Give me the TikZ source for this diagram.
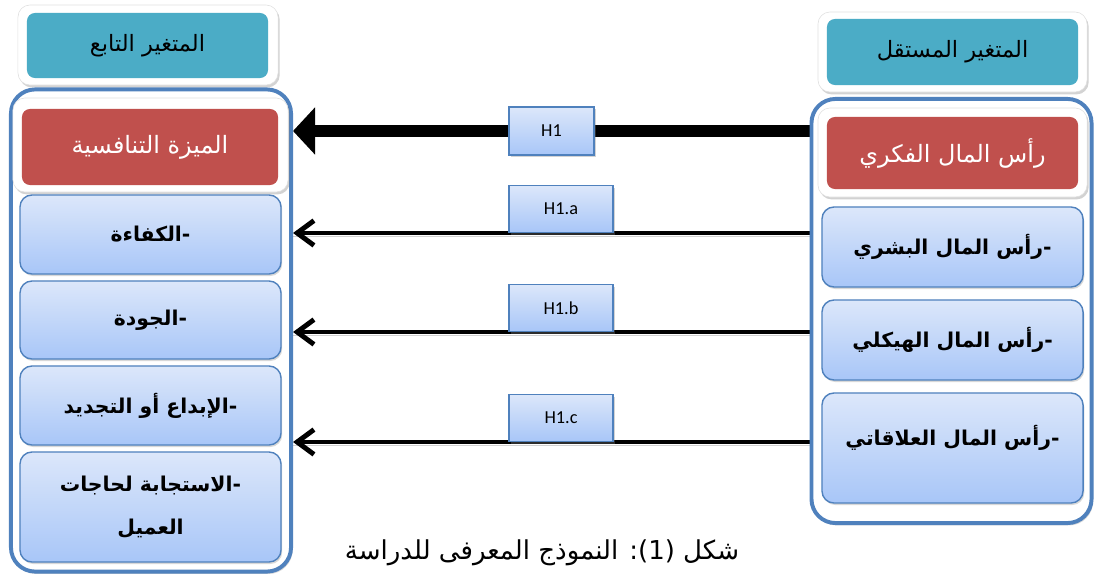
\documentclass[tikz,border=0pt]{standalone}
\usepackage{fontspec}
\usepackage{tikz}
\usetikzlibrary{positioning,shadows,backgrounds,arrows.meta}
\TeXXeTstate=1
\newfontfamily\arabicfont[Script=Arabic]{DejaVu Sans}
\newfontfamily\hypfont{Carlito}
\definecolor{headteal}{HTML}{4BACC6}
\definecolor{titlered}{HTML}{C0504D}
\definecolor{frameblue}{HTML}{4F81BD}
\definecolor{itemtop}{HTML}{DCE7FA}
\definecolor{itembottom}{HTML}{A8C6F8}

\tikzset{
  panel/.style={draw=frameblue, line width=2.8pt, fill=white, rounded corners=0.6cm, inner sep=0pt,
    drop shadow={opacity=0.3, shadow xshift=0.04cm, shadow yshift=-0.06cm}},
  whiteframe/.style={fill=white, draw=black!12, rounded corners=0.3cm, inner sep=0pt,
    drop shadow={opacity=0.35, shadow xshift=0.04cm, shadow yshift=-0.06cm}},
  headbox/.style={fill=headteal, rounded corners=0.2cm, inner sep=0pt, font=\arabicfont\fontsize{16}{19}\selectfont},
  titlebox/.style={fill=titlered, text=white, rounded corners=0.2cm, inner sep=0pt, font=\arabicfont\fontsize{17}{20}\selectfont},
  itemtext/.style={font=\arabicfont\bfseries\fontsize{14.5}{31}\selectfont},
  itembox/.style={draw=frameblue, line width=1pt, rounded corners=0.3cm, top color=itemtop, bottom color=itembottom,
    inner sep=0pt, minimum width=6.525cm, align=center,
    drop shadow={opacity=0.3, shadow xshift=0.03cm, shadow yshift=-0.05cm}, itemtext},
  hypbox/.style={draw=frameblue, line width=1pt, top color=itemtop, bottom color=itembottom, inner sep=0pt,
    minimum height=1.175cm, drop shadow={opacity=0.35, shadow xshift=0.04cm, shadow yshift=-0.06cm},
    font=\hypfont\fontsize{13}{15}\selectfont},
  mainlink/.style={line width=8.5pt, -{Triangle[length=0.55cm,width=1.15cm]}},
  sublink/.style={line width=3.5pt, line cap=round, -{Straight Barb[length=0.42cm,width=0.62cm]},
    preaction={draw=black!18, -, transform canvas={yshift=-0.08cm}}},
}

\begin{document}
\begin{tikzpicture}[x=0.025cm, y=-0.025cm]
    \useasboundingbox (0,0) rectangle (1095,577);

    % Dependent side
    \node[whiteframe, minimum width=6.5cm, minimum height=2cm] (depframe) at (148,45) {};
    \node[headbox, minimum width=6.025cm, minimum height=1.625cm] (dephead) at (147.5,45.5) {\beginR المتغير التابع\endR};
    \node[panel, minimum width=7cm, minimum height=12.05cm] (leftpanel) at (151,330.5) {};
    \node[whiteframe, minimum width=6.875cm, minimum height=2.35cm] (depbox) at (150.5,145) {};
    \node[titlebox, minimum width=6.4cm, minimum height=1.9cm] (deptitle) at (150,147) {\beginR الميزة التنافسية\endR};
    \node[itembox, minimum height=1.975cm] (eff) at (150.5,234.5) {\beginR-الكفاءة\endR};
    \node[itembox, minimum height=1.95cm] (qual) at (150.5,320) {\beginR-الجودة\endR};
    \node[itembox, minimum height=1.975cm] (innov) at (150.5,405.5) {\beginR-الإبداع أو التجديد\endR};
    \node[itembox, minimum height=2.75cm] (resp) at (150.5,507) {\beginR-الاستجابة لحاجات\endR\\\beginR العميل\endR};

    % Independent side
    \node[whiteframe, minimum width=6.725cm, minimum height=2cm] (indframe) at (952.5,52) {};
    \node[headbox, minimum width=6.275cm, minimum height=1.65cm] (indhead) at (952.5,52) {\beginR المتغير المستقل\endR};
    \node[panel, minimum width=7cm, minimum height=10.6cm] (rightpanel) at (951.5,311) {};
    \node[whiteframe, minimum width=6.725cm, minimum height=2.225cm] (indbox) at (952.5,152.5) {};
    \node[titlebox, minimum width=6.275cm, minimum height=1.8cm] (indtitle) at (952.5,153) {\beginR رأس المال الفكري\endR};
    \node[itembox, minimum height=2cm] (human) at (952.5,247) {\beginR-رأس المال البشري\endR};
    \node[itembox, minimum height=2cm] (struct) at (952.5,340) {\beginR-رأس المال الهيكلي\endR};
    \node[itembox, minimum height=2.75cm] (relat) at (952.5,448) {};
    \node[itemtext] (relattext) at (952.5,438) {\beginR-رأس المال العلاقاتي\endR};

    % Hypotheses
    \node[hypbox, minimum width=2.125cm, minimum height=1.2cm] (h1) at (551.5,131) {H1};
    \node[hypbox, minimum width=2.6cm, anchor=south] (h1a) at (561,233) {H1.a};
    \node[hypbox, minimum width=2.6cm, anchor=south] (h1b) at (561,332) {H1.b};
    \node[hypbox, minimum width=2.6cm, anchor=south] (h1c) at (561,442) {H1.c};

    % Links
    \begin{scope}[on background layer]
        \draw[mainlink] (rightpanel.west |- h1) -- (leftpanel.east |- h1);
        \draw[sublink] (rightpanel.west |- h1a.south) -- (leftpanel.east |- h1a.south);
        \draw[sublink] (rightpanel.west |- h1b.south) -- (leftpanel.east |- h1b.south);
        \draw[sublink] (rightpanel.west |- h1c.south) -- (leftpanel.east |- h1c.south);
    \end{scope}

    % Caption
    \node[font=\arabicfont\fontsize{18.5}{22}\selectfont] (caption) at (542,553) {\beginR شكل (1): النموذج المعرفى للدراسة\endR};

\end{tikzpicture}
\end{document}
